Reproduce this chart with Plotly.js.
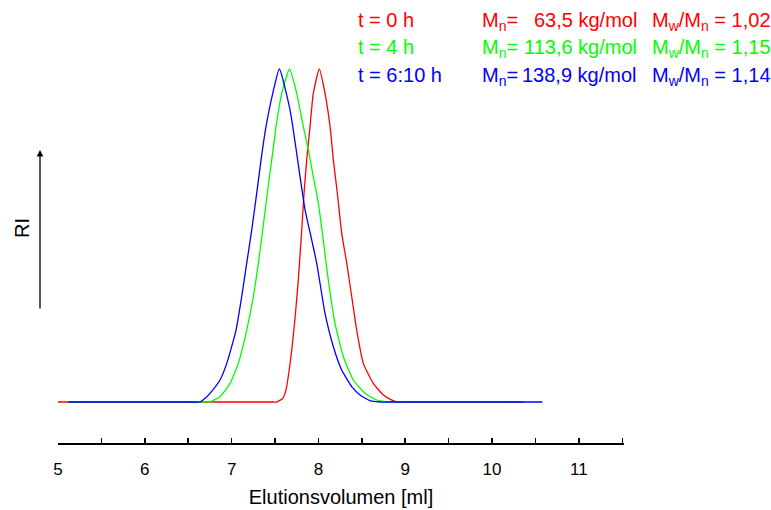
<!DOCTYPE html>
<html>
<head>
<meta charset="utf-8">
<script src="https://cdn.plot.ly/plotly-3.0.1.min.js"></script>
<style>html,body{margin:0;padding:0;background:#fff;}#chart{width:771px;height:510px;}</style>
</head>
<body>
<div id="chart"></div>
<script>
// Elution volume (ml) and normalized RI signal for each sample
const xRed = [5.00, 7.40, 7.480, 7.520, 7.590, 7.630, 7.660, 7.690, 7.730, 7.768, 7.808, 7.834, 7.865, 7.903, 7.941, 8.010, 8.076, 8.134, 8.172, 8.218, 8.268, 8.326, 8.384, 8.441, 8.517, 8.632, 8.748, 8.860, 8.902, 9.00, 10.36];
const yRed = [0, 0, 0, 0, 0.011, 0.040, 0.090, 0.150, 0.250, 0.366, 0.517, 0.627, 0.727, 0.827, 0.927, 1.0, 0.927, 0.827, 0.727, 0.627, 0.507, 0.417, 0.316, 0.216, 0.116, 0.056, 0.021, 0.004, 0, 0, 0];

const xGreen = [5.12, 6.60, 6.700, 6.751, 6.866, 6.982, 7.077, 7.174, 7.250, 7.308, 7.358, 7.411, 7.462, 7.512, 7.577, 7.667, 7.750, 7.826, 7.884, 7.941, 7.999, 8.056, 8.114, 8.191, 8.287, 8.402, 8.537, 8.672, 8.825, 8.95, 10.36];
const yGreen = [0, 0, 0, 0, 0.016, 0.056, 0.116, 0.216, 0.316, 0.417, 0.517, 0.627, 0.727, 0.827, 0.927, 1.0, 0.927, 0.827, 0.757, 0.677, 0.597, 0.486, 0.366, 0.236, 0.136, 0.066, 0.026, 0.006, 0, 0, 0];

const xBlue = [5.12, 6.50, 6.600, 6.636, 6.694, 6.751, 6.866, 6.944, 7.051, 7.116, 7.174, 7.232, 7.289, 7.339, 7.396, 7.474, 7.550, 7.673, 7.788, 7.846, 7.923, 7.980, 8.076, 8.172, 8.268, 8.384, 8.479, 8.594, 8.710, 8.82, 10.58];
const yBlue = [0, 0, 0, 0, 0.011, 0.026, 0.066, 0.116, 0.216, 0.316, 0.417, 0.517, 0.627, 0.727, 0.827, 0.927, 1.0, 0.877, 0.677, 0.577, 0.486, 0.417, 0.266, 0.166, 0.096, 0.046, 0.021, 0.004, 0, 0, 0];

const labelsT = ["t = 0 h", "t = 4 h", "t = 6:10 h"];
const labelsMn = ["63,5 kg/mol", "113,6 kg/mol", "138,9 kg/mol"];
const labelsPdi = ["1,02", "1,15", "1,14"];
const colors = ["#ff0000", "#00ff00", "#0000ff"];

const lineStyle = c => ({color: c, width: 1.3, shape: "spline", smoothing: 0.5});
const traces = [
  {x: xRed, y: yRed, mode: "lines", line: lineStyle(colors[0]), hoverinfo: "skip"},
  {x: xGreen, y: yGreen, mode: "lines", line: lineStyle(colors[1]), hoverinfo: "skip"},
  {x: xBlue, y: yBlue, mode: "lines", line: lineStyle(colors[2]), hoverinfo: "skip"}
];

const L = 58, R = 147, T = 60, B = 67;
const W = 771 - L - R, H = 510 - T - B;
const px = v => (v - L) / W;
const py = v => (510 - B - v) / H;

const fontMain = "Liberation Sans, Arial, sans-serif";
const annotations = [];
const rowTops = [7, 34.5, 62];
for (let i = 0; i < 3; i++) {
  const f = {family: fontMain, size: 20, color: colors[i]};
  annotations.push({xref: "paper", yref: "paper", x: px(355.5), y: py(rowTops[i]), xanchor: "left", yanchor: "top", text: labelsT[i], showarrow: false, font: f});
  annotations.push({xref: "paper", yref: "paper", x: px(480), y: py(rowTops[i]), xanchor: "left", yanchor: "top", text: "M<sub>n</sub>=", showarrow: false, font: f});
  annotations.push({xref: "paper", yref: "paper", x: px(639), y: py(rowTops[i]), xanchor: "right", yanchor: "top", text: labelsMn[i], showarrow: false, font: f});
  annotations.push({xref: "paper", yref: "paper", x: px(650), y: py(rowTops[i]), xanchor: "left", yanchor: "top", text: "M<sub>w</sub>/M<sub>n</sub> = " + labelsPdi[i], showarrow: false, font: f});
}
// RI arrow and label
annotations.push({xref: "paper", yref: "paper", x: px(40), y: py(150), ax: 0, ay: 160, text: "", showarrow: true, arrowhead: 2, arrowsize: 1, arrowwidth: 1.3, arrowcolor: "#000"});
annotations.push({xref: "paper", yref: "paper", x: px(22), y: py(228), xanchor: "center", yanchor: "middle", text: "RI", textangle: -90, showarrow: false, font: {family: fontMain, size: 20, color: "#000"}});

const layout = {
  width: 771, height: 510,
  margin: {l: L, r: R, t: T, b: B},
  paper_bgcolor: "#fff", plot_bgcolor: "#fff",
  showlegend: false,
  xaxis: {
    range: [5, 11.52], showgrid: false, zeroline: false,
    showline: true, linecolor: "#000", linewidth: 1.5,
    ticks: "inside", ticklen: 5, tickwidth: 1.5, tickcolor: "#000", dtick: 1, tick0: 5,
    minor: {dtick: 0.5, tick0: 5, ticks: "inside", ticklen: 5, tickwidth: 1.5, tickcolor: "#000", showgrid: false},
    tickfont: {family: fontMain, size: 17, color: "#000"},
    ticklabelstandoff: 10,
    title: {text: "Elutionsvolumen [ml]", font: {family: fontMain, size: 20, color: "#000"}, standoff: 12}
  },
  yaxis: {visible: false, range: [-(443 - 402) / 333, (402 - 60) / 333]},
  annotations: annotations
};

Plotly.newPlot("chart", traces, layout, {staticPlot: true, displayModeBar: false});
</script>
</body>
</html>
